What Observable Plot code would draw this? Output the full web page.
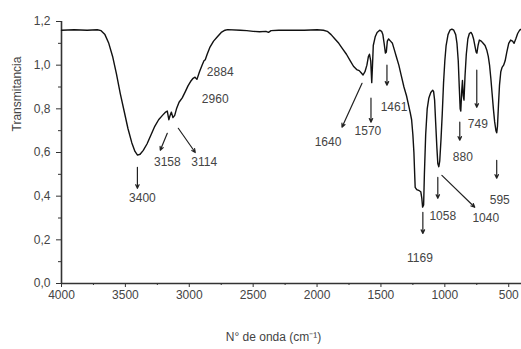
<!DOCTYPE html>
<html>
<head>
<meta charset="utf-8">
<script src="https://cdn.jsdelivr.net/npm/d3@7"></script>
<script src="https://cdn.jsdelivr.net/npm/@observablehq/plot@0.6"></script>
<style>
  body { margin: 0; background: #fff; }
  svg { font-family: Arial, "Liberation Sans", sans-serif; }
</style>
</head>
<body>
<div id="chart"></div>
<script>
// Spectrum: wavenumber (cm-1) and transmittance
const wavenumber = [4000,3900,3800,3720,3690,3660,3630,3600,3570,3540,3510,3480,3450,3425,3405,3385,3360,3330,3300,3270,3240,3210,3185,3172,3160,3150,3140,3128,3114,3100,3080,3055,3030,3010,2990,2970,2955,2940,2920,2900,2885,2875,2860,2840,2810,2780,2750,2720,2700,2600,2550,2500,2450,2400,2380,2360,2300,2200,2100,2000,1950,1920,1890,1860,1830,1800,1770,1740,1715,1690,1670,1655,1640,1625,1610,1598,1590,1580,1572,1566,1560,1545,1530,1510,1495,1485,1475,1465,1458,1450,1440,1425,1410,1395,1380,1360,1340,1320,1300,1285,1270,1260,1250,1242,1236,1232,1220,1200,1188,1180,1174,1166,1160,1150,1138,1125,1110,1095,1088,1080,1072,1062,1055,1047,1040,1030,1020,1010,1000,990,975,960,945,930,915,905,895,887,880,875,868,862,856,850,842,832,820,808,795,785,775,765,755,749,740,730,715,700,685,672,660,650,640,630,620,610,600,594,588,580,572,562,552,540,528,515,500,485,470,458,445,430,415,400];
const transmittance = [1.16,1.162,1.16,1.162,1.158,1.14,1.10,1.04,0.96,0.87,0.79,0.71,0.645,0.605,0.588,0.592,0.61,0.64,0.68,0.72,0.75,0.77,0.785,0.79,0.75,0.77,0.785,0.76,0.77,0.80,0.83,0.85,0.88,0.905,0.925,0.94,0.945,0.935,0.97,1.0,1.02,1.025,1.05,1.08,1.11,1.13,1.15,1.16,1.163,1.16,1.158,1.155,1.153,1.155,1.15,1.158,1.16,1.16,1.16,1.162,1.16,1.155,1.14,1.12,1.10,1.075,1.05,1.02,0.995,0.98,0.975,0.965,0.955,0.97,1.0,1.04,1.05,1.02,0.92,1.0,1.09,1.13,1.15,1.16,1.155,1.14,1.10,1.055,1.06,1.11,1.12,1.11,1.10,1.07,1.04,1.0,0.95,0.90,0.86,0.82,0.78,0.75,0.68,0.60,0.50,0.44,0.43,0.425,0.42,0.39,0.35,0.36,0.50,0.68,0.80,0.85,0.875,0.885,0.88,0.84,0.74,0.62,0.55,0.535,0.56,0.66,0.78,0.92,1.02,1.09,1.14,1.16,1.165,1.16,1.14,1.10,1.02,0.90,0.80,0.79,0.88,0.93,0.86,0.84,0.95,1.05,1.12,1.145,1.15,1.14,1.12,1.09,1.06,1.055,1.09,1.115,1.11,1.10,1.09,1.07,1.04,1.0,0.94,0.87,0.80,0.74,0.70,0.69,0.72,0.82,0.91,0.97,0.99,1.0,1.02,1.06,1.10,1.115,1.11,1.10,1.12,1.145,1.16,1.165];

// Peak annotations: label, label position, arrow start/end (data units)
const peakLabels = ["3400","3158","3114","2884","2960","1640","1570","1461","1169","1058","1040","880","749","595"];
const labelX = [3367,3172,2883,2758,2797,1914,1602,1398,1195,1016,680,859,742,570];
const labelY = [0.39,0.555,0.555,0.97,0.844,0.647,0.70,0.807,0.115,0.307,0.298,0.578,0.729,0.38];
const arrowLabels = ["3400","3158","3114","1640","1570","1461","1169","1058","1040","880","749","595"];
const arrowX1 = [3406,3172,3086,1648,1578,1453,1172,1055,1023,883,750,594];
const arrowY1 = [0.532,0.688,0.711,0.917,0.849,1.0,0.326,0.486,0.495,0.739,0.977,0.564];
const arrowX2 = [3406,3227,2953,1805,1578,1453,1172,1055,766,883,750,594];
const arrowY2 = [0.436,0.61,0.60,0.716,0.739,0.908,0.229,0.39,0.349,0.656,0.807,0.482];

const xTicks = [4000,3500,3000,2500,2000,1500,1000,500];
const xMinor = [3750,3250,2750,2250,1750,1250,750];
const yTicks = [0,0.2,0.4,0.6,0.8,1.0,1.2];
const yMinor = [0.1,0.3,0.5,0.7,0.9,1.1];

const spectrum = wavenumber.map((w, i) => ({w, t: transmittance[i]}));
const labels = peakLabels.map((s, i) => ({s, x: labelX[i], y: labelY[i]}));
const arrows = arrowLabels.map((s, i) => ({x1: arrowX1[i], y1: arrowY1[i], x2: arrowX2[i], y2: arrowY2[i]}));

const textColor = "#444";
const chart = Plot.plot({
  width: 521,
  height: 349,
  marginLeft: 61,
  marginRight: 0,
  marginTop: 21,
  marginBottom: 66,
  style: {fontFamily: "Arial, 'Liberation Sans', sans-serif", fontSize: "12px", color: textColor, background: "#fff"},
  x: {domain: [4000, 400]},
  y: {domain: [0, 1.2]},
  marks: [
    Plot.axisX(xTicks, {tickSize: 4, tickPadding: 3, fontSize: 12, tickFormat: d => String(d), label: null, stroke: "#333", fill: textColor}),
    Plot.axisX(xMinor, {tickSize: 2, tickFormat: () => "", label: null, stroke: "#333"}),
    Plot.axisY(yTicks, {tickSize: 5, tickPadding: 6, fontSize: 12, tickFormat: d => d.toFixed(1).replace(".", ","), label: null, stroke: "#333", fill: textColor}),
    Plot.axisY(yMinor, {tickSize: 3, tickFormat: () => "", label: null, stroke: "#333"}),
    Plot.ruleY([0], {stroke: "#333", strokeWidth: 1.6}),
    Plot.ruleX([4000], {stroke: "#333", strokeWidth: 1.6}),
    Plot.line(spectrum, {x: "w", y: "t", stroke: "#111", strokeWidth: 1.4, curve: "linear"}),
    Plot.arrow(arrows, {x1: "x1", y1: "y1", x2: "x2", y2: "y2", stroke: "#222", strokeWidth: 1.2, headLength: 5, headAngle: 50}),
    Plot.text(labels, {x: "x", y: "y", text: "s", fontSize: 12, fill: textColor, letterSpacing: 0.5}),
    Plot.text(["Transmitancia"], {frameAnchor: "left", dx: -44, dy: -21, rotate: -90, fontSize: 12, fill: textColor, letterSpacing: 0.8}),
    Plot.text(["N° de onda (cm⁻¹)"], {frameAnchor: "bottom", dx: -18, dy: 57, fontSize: 12, fill: textColor})
  ]
});
document.getElementById("chart").appendChild(chart);
</script>
</body>
</html>
